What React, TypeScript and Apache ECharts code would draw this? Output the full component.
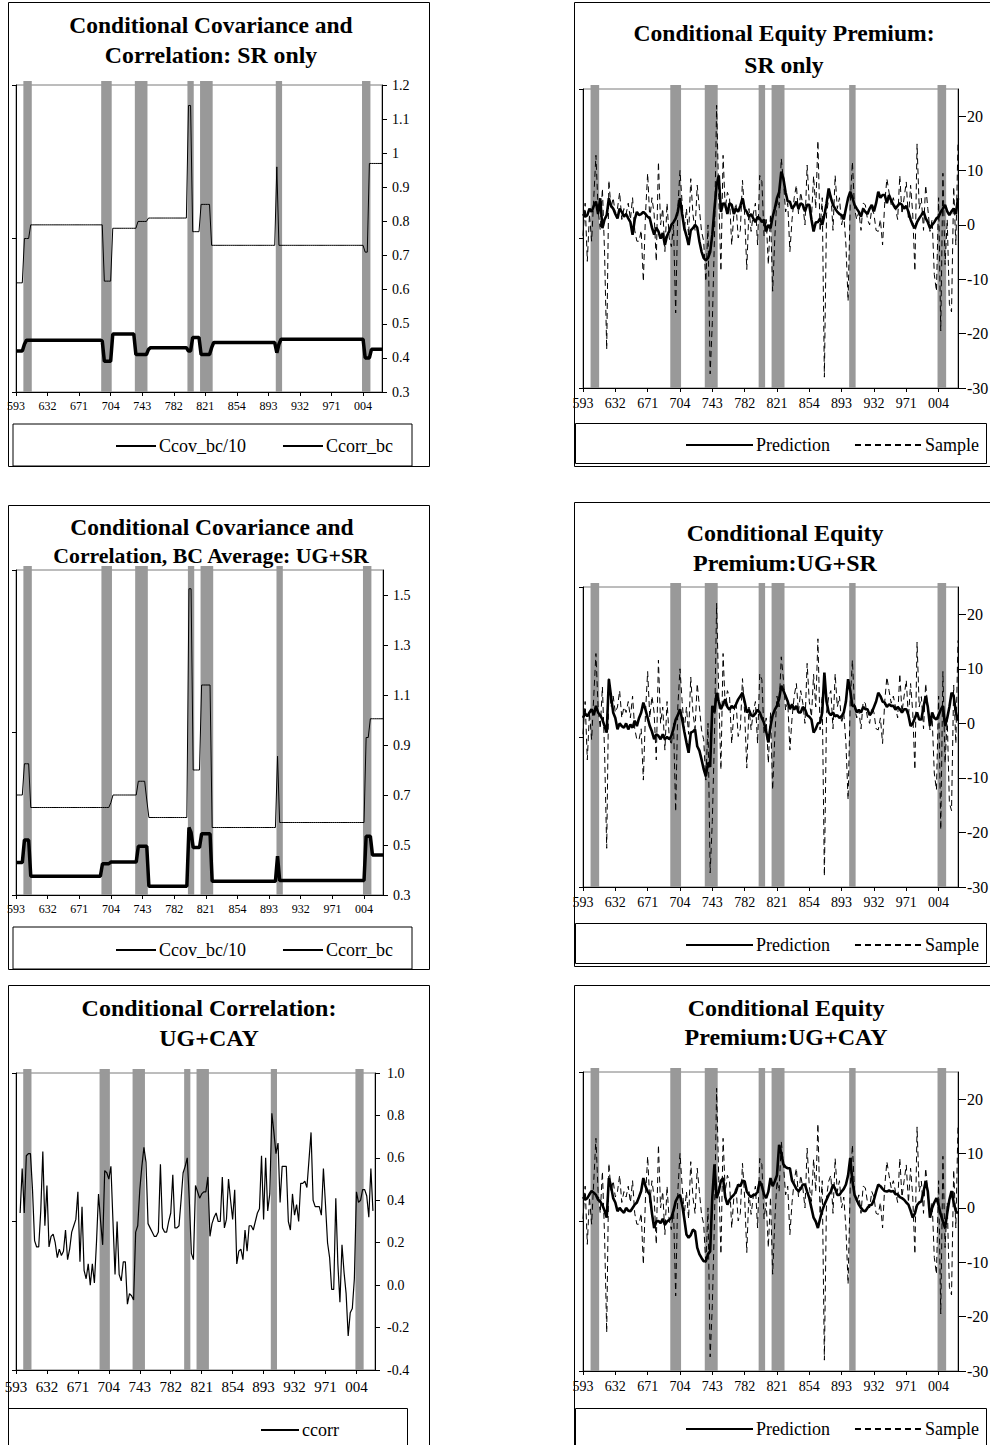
import React, { useEffect, useRef } from "react";
import * as echarts from "echarts";

const FONT = "'Liberation Serif', 'Times New Roman', serif";

// Quarterly axis 1959:3 .. 2003:1 (label = two-digit year + quarter)
const N_QUARTERS = 175;
const quarters: string[] = [];
for (let i = 0; i < N_QUARTERS; i++) {
  const k = 2 + i;
  const y = 1959 + Math.floor(k / 4);
  quarters.push(String(y % 100).padStart(2, "0") + String((k % 4) + 1));
}

// Shaded recession quarters [first index, last index]
const recessionQuarters = [
  [4, 7], [41, 45], [57, 62], [82, 84], [88, 93], [124, 126], [165, 168],
];

// Step series given as runs: [value, number of quarters]
const ccovSrRuns = [
  [0.62, 4], [0.75, 3], [0.79, 35], [0.625, 4], [0.78, 12], [0.8, 5], [0.81, 19],
  [1.14, 2], [0.77, 4], [0.85, 5], [0.73, 31], [0.96, 1], [0.73, 41], [0.71, 2], [0.97, 7],
];
const ccorrSrRuns = [
  [0.42, 4], [0.44, 1], [0.452, 36], [0.45, 1], [0.39, 4], [0.47, 11], [0.41, 6], [0.425, 1],
  [0.43, 18], [0.42, 2], [0.46, 4], [0.41, 5], [0.43, 1], [0.445, 30], [0.415, 1], [0.44, 1],
  [0.455, 40], [0.4, 3], [0.425, 6],
];
const ccovUgSrRuns = [
  [0.7, 4], [0.825, 3], [0.65, 38], [0.67, 1], [0.7, 12], [0.755, 4], [0.68, 1], [0.61, 19],
  [1.525, 2], [0.8, 4], [1.14, 5], [0.57, 31], [0.855, 1], [0.59, 41], [0.93, 2], [1.005, 7],
];
const ccorrUgSrRuns = [
  [0.43, 4], [0.52, 3], [0.375, 34], [0.425, 4], [0.432, 13], [0.495, 5], [0.335, 19],
  [0.57, 1], [0.55, 1], [0.49, 4], [0.545, 5], [0.355, 31], [0.455, 1], [0.358, 41],
  [0.535, 3], [0.46, 6],
];

const ccorrUgCay = [
  null, null, 0.34, 0.55, 0.34, 0.61, 0.62, 0.62, 0.45, 0.21,
  0.18, 0.18, 0.35, 0.63, 0.28, 0.47, 0.18, 0.23, 0.24, 0.2,
  0.13, 0.17, 0.14, 0.16, 0.26, 0.12, 0.17, 0.25, 0.28, 0.31,
  0.44, 0.11, 0.37, 0.07, 0.03, 0.1, 0.0, 0.1, 0.01, 0.2,
  0.43, 0.3, 0.19, 0.54, 0.53, 0.5, 0.56, 0.3, 0.05, 0.3,
  0.05, 0.02, 0.11, 0.11, -0.09, -0.04, -0.05, -0.07, 0.25, 0.28,
  0.45, 0.56, 0.65, 0.58, 0.29, 0.27, 0.25, 0.23, 0.23, 0.25,
  0.57, 0.27, 0.25, 0.25, 0.3, 0.34, 0.52, 0.27, 0.27, 0.28,
  0.4, 0.53, 0.56, 0.6, 0.4, 0.15, 0.12, 0.47, 0.44, 0.41,
  0.43, 0.44, 0.44, 0.51, 0.23, 0.29, 0.32, 0.34, 0.3, 0.3,
  0.51, 0.27, 0.31, 0.5, 0.4, 0.31, 0.45, 0.1, 0.16, 0.17,
  0.12, 0.26, 0.16, 0.28, 0.28, 0.26, 0.3, 0.34, 0.36, 0.61,
  0.31, 0.6, 0.35, 0.43, 0.81, 0.72, 0.62, 0.67, 0.39, 0.56,
  0.56, 0.56, 0.3, 0.26, 0.43, 0.33, 0.38, 0.3, 0.48, 0.48,
  0.49, 0.46, 0.59, 0.72, 0.4, 0.37, 0.37, 0.37, 0.33, 0.55,
  0.38, 0.2, 0.13, -0.02, -0.02, 0.41, 0.1, -0.08, 0.19, 0.06,
  -0.04, -0.24, -0.13, -0.11, 0.03, 0.44, 0.39, 0.4, 0.45, 0.45,
  0.42, 0.32, 0.55, 0.35, null,
];

const sample = [
  -2, 4, -6.7, 2, -3, 5, 12.8, 3, -1, 6.7,
  -5, -22.9, 8.2, 3, 5, 2, 3, 6, 1, 3,
  2, 4, 1, 5, -1, -3, -3, -1, -10.4, 2,
  9.5, 1, 5, 2, -6.7, 11.6, 0, 3, -4.9, 4,
  -2.4, -4, 0, -16.2, 3, 10, 4, -1.2, 3, -2,
  8.5, 2, -1, 7.3, 3, -1.2, -3, -10.4, 0, -27.4,
  -18, -2.4, 22, 5, -8.5, 12.8, 3, 6, 4.9, -3.7,
  2, 4, -2.4, -1, 8.2, 2, -8.2, 3, -1.2, 2,
  4, -3.7, 9.1, 8, -2, 1, -7.3, 2, -12.2, -2.4,
  5, 3, 12.2, 8, 2.4, 4, -4.9, 1, 5, 7.3,
  2, 6, 3.7, 0, 11, 4, 1.2, 9, 3, 15.5,
  -1.2, 5, -28, 2, 4.9, 6, -1, 9.1, 3, 5,
  0, 2, -3.7, -14, 4, 11.6, 3, 1, 2.4, -1,
  4, 3.7, 1, 0, 3, 2, -1, -1.2, 1, -3.7,
  4, 8.5, 6, 3.7, 5, 3, 1, 9.1, 2, 5,
  7.9, 1, 7.3, 2, -8.5, 14.9, 3, 4.9, -1, 7.3,
  3, -1.2, 1, -9.1, -12.2, 5, -19.5, 9.5, -7.3, 1,
  -14.6, -16, 7, -3.7, 15.2,
];

const predSr = [
  2, 1.5, 1.8, 3, 2.4, 3.5, 4.3, 2, 4.9, -0.6,
  1, 1.8, 4.9, 3.5, 3, 2, 1.2, 3, 2.4, 1.5,
  2, 1.2, 0.5, -1.8, 1, 2.4, 1.8, 2, 2.4, 2,
  1.5, 1.2, -0.5, -1.8, -0.5, -1.2, -2.5, -1.5, -3.7, -2,
  -1.2, 0, 0.5, 1.2, 2.5, 4.9, 2, -0.6, -2, -3.7,
  -1, -0.6, 0, -0.5, -3, -4.9, -6.1, -6.5, -6.1, -5,
  -1.8, 3, 7.3, 9.1, 2.4, 4, 3.7, 2, 4, 3.7,
  2, 3, 2.4, 3.5, 4.9, 3, 2.4, 1.5, 2, 1.2,
  0.5, 1.5, 1.2, 0.5, 1, -1.2, 0, -0.6, 1.5, 3,
  4.9, 6, 9.8, 8.5, 6, 4.3, 4.3, 3, 3.5, 4.3,
  3, 4, 3.7, 2.5, 3.7, 3.7, 1, -1.2, 0.5, 0.5,
  1.2, 0, 1.8, 4, 6.7, 5, 3.7, 3, 2.4, 2,
  1.8, 1, 3, 4.9, 6.1, 5, 3.7, 3, 2.4, 1.5,
  3, 2.4, 2, 3, 3.7, 2.5, 4, 6.1, 5, 5.5,
  5.5, 4, 5.5, 4.5, 3.7, 3, 3.5, 4, 3.7, 3,
  3.5, 2.4, 1, 0, -0.6, 0.5, 1.2, 1.8, 2.5, 1.2,
  0.5, -0.6, 0, 0.5, 1.2, 1.5, 2.4, 3, 3.7, 2.5,
  1.8, 2.5, 3, 2, 4.9,
];

const predUgSr = [
  1, 1.8, 1.3, 2, 2.6, 1.5, 3.2, 2, 1.5, 0.7,
  -0.5, -1.7, 8.1, 5, 2, 1, -1.1, 0, -0.5, -0.8,
  0, -1.1, -0.2, -0.8, 0.5, -0.5, 1, 2, 3.8, 2.5,
  1, -0.5, -1.5, -2.9, -2, -2.3, -2.9, -2, -2.9, -2.5,
  -2.9, -2.3, -1, 0.7, 1.5, 2.6, 0.7, -1.5, -3.5, -5.4,
  -1.7, -1.5, -1.1, -4.2, -5, -6.6, -8.4, -9.7, -7.2, -8,
  3.2, 2, 5.6, 4, 2.6, 3.5, 4.4, 3, 2.5, 3.2,
  2.8, 3.5, 4.4, 5, 5.6, 4, 2, 2.5, 1.5, 1.3,
  1.8, 2.5, 2, 1, 0.1, -1.5, -3.5, -0.5, 1.5, 2.5,
  3.2, 4.5, 6.9, 6, 5, 4, 2.6, 3.5, 2.5, 3.2,
  2, 2, 3, 2.6, 1.5, 1.2, 0.7, -1.7, -1, 0,
  0.1, 2, 9.3, 4, 2, 1.5, 2, 1.3, 1.5, 1,
  1.3, 2, 4, 8.1, 6, 3.2, 3.2, 2, 2.5, 2,
  3, 2.6, 2.6, 1.5, 2, 3, 4, 5.6, 5, 4,
  3.8, 3, 3.5, 3.2, 3.2, 2.5, 3, 2.6, 2, 2.6,
  2.6, 1.5, -0.5, 0, 1, 2, 0.7, 0.7, 3, 5,
  3, -0.5, 2, 1, 0.7, 1.5, 2.5, 3.2, -0.5, 1,
  3, 5.6, 5, 2, 0.5,
];

const predUgCay = [
  2, 1.5, 1.8, 2.5, 3.1, 2.8, 2.4, 1.5, 1.2, 0.5,
  -0.5, -1.8, 5.5, 4, 1.8, 1, -0.6, 0, -0.5, -0.9,
  0, -0.5, -0.6, 0, 0.6, 1, 2, 3.1, 5.5, 4,
  3, 2.4, -1, -3.7, -2.5, -2.4, -2.8, -2, -3.1, -2.5,
  -2.2, -1.8, -0.5, 1.2, 2, 2.4, 0.6, -2, -4.9, -5.5,
  -5, -4, -4.3, -7.3, -8.5, -9.2, -9.8, -9.8, -8.5, -8,
  2, 8, 1.8, 3, 5, 5.5, 2, 0.6, 1.5, 2,
  2.4, 3, 4.3, 4, 5, 4.9, 3, 2.4, 2, 2.4,
  2.4, 3, 4.9, 4, 2.5, 1.8, 3, 5.5, 4, 4.9,
  6, 11.6, 10, 8, 7.5, 7.3, 7.3, 5, 4.3, 3.5,
  3.1, 3.5, 4.3, 4.3, 3, 1.8, 0, -1.8, -2.5, -3.7,
  -2, -0.5, 0.6, 1.5, 2.4, 3, 4.3, 3.5, 2.4, 2.4,
  3, 3.5, 4.3, 6, 9.2, 5, 2.4, 1.5, 0.6, 0,
  -0.5, -0.6, 0, 0.5, 0.6, 1.5, 3, 4.3, 4, 3.5,
  3.1, 3, 3.2, 3, 3.1, 2.5, 2.5, 2, 1.8, 1.5,
  1, 0.6, -0.5, -1.8, -1, 0.5, 1, 1.2, 3, 4.9,
  3, -1.8, 0, 1, 1.8, 0.5, -1.2, -2.5, -3.7, -1,
  1.5, 3.1, 1, -0.6, -1,
];

// Axis tick values
const ticksSr = [0.3, 0.4, 0.5, 0.6, 0.7, 0.8, 0.9, 1, 1.1, 1.2];
const ticksUgSr = [0.3, 0.5, 0.7, 0.9, 1.1, 1.3, 1.5];
const ticksCay = [-0.4, -0.2, 0, 0.2, 0.4, 0.6, 0.8, 1.0];
const ticksPremium = [-30, -20, -10, 0, 10, 20];

const expandRuns = (runs: number[][]) => runs.flatMap(([v, n]) => Array(n).fill(v));

type SeriesDef = { name: string; data: (number | null)[]; width: number; dashed?: boolean };
type PanelDef = {
  grid: { left: number; top: number; width: number; height: number };
  yMin: number; yMax: number; yTicks: number[]; yFmt?: (v: number) => string;
  xFont: number; yFont: number; xMargin: number; yMargin: number; yTick: number;
  series: SeriesDef[];
  legend: { left: number; top: number; itemWidth: number; itemGap: number };
  titles: { x: number; y: number; text: string; size: number }[];
  box: { x: number; y: number; w: number; h: number };
  legendBox: { x: number; y: number; w: number; h: number };
};

const panels: PanelDef[] = [
  {
    grid: { left: 16, top: 85, width: 366, height: 307 },
    yMin: 0.3, yMax: 1.2, yTicks: ticksSr,
    xFont: 12, yFont: 14, xMargin: 8, yMargin: 10, yTick: 5,
    series: [
      { name: "Ccov_bc/10", data: expandRuns(ccovSrRuns), width: 1 },
      { name: "Ccorr_bc", data: expandRuns(ccorrSrRuns), width: 3.5 },
    ],
    legend: { left: 115, top: 437, itemWidth: 40, itemGap: 36 },
    titles: [
      { x: 211, y: 25, text: "Conditional Covariance and", size: 23.5 },
      { x: 211, y: 55, text: "Correlation: SR only", size: 23.8 },
    ],
    box: { x: 8.5, y: 2.5, w: 421, h: 464 },
    legendBox: { x: 13, y: 424, w: 399, h: 42 },
  },
  {
    grid: { left: 16, top: 570, width: 367, height: 325 },
    yMin: 0.3, yMax: 1.6, yTicks: ticksUgSr,
    xFont: 12, yFont: 14, xMargin: 8, yMargin: 10, yTick: 5,
    series: [
      { name: "Ccov_bc/10", data: expandRuns(ccovUgSrRuns), width: 1 },
      { name: "Ccorr_bc", data: expandRuns(ccorrUgSrRuns), width: 3.5 },
    ],
    legend: { left: 115, top: 941, itemWidth: 40, itemGap: 36 },
    titles: [
      { x: 212, y: 527, text: "Conditional Covariance and", size: 23.5 },
      { x: 211, y: 556, text: "Correlation, BC Average: UG+SR", size: 21.8 },
    ],
    box: { x: 8.5, y: 505.5, w: 421, h: 464 },
    legendBox: { x: 13, y: 927, w: 399, h: 42 },
  },
  {
    grid: { left: 16, top: 1073, width: 359, height: 297 },
    yMin: -0.4, yMax: 1.0, yTicks: ticksCay, yFmt: (v: number) => v.toFixed(1),
    xFont: 15, yFont: 14, xMargin: 9, yMargin: 12, yTick: 5,
    series: [{ name: "ccorr", data: ccorrUgCay, width: 1.2 }],
    legend: { left: 260, top: 1421, itemWidth: 38, itemGap: 20 },
    titles: [
      { x: 209, y: 1008, text: "Conditional Correlation:", size: 24 },
      { x: 209, y: 1038, text: "UG+CAY", size: 24 },
    ],
    box: { x: 8.5, y: 985.5, w: 421, h: 500 },
    legendBox: { x: 8.5, y: 1408.5, w: 399, h: 100 },
  },
  {
    grid: { left: 583, top: 89, width: 375, height: 299 },
    yMin: -30, yMax: 25, yTicks: ticksPremium,
    xFont: 14, yFont: 16, xMargin: 8, yMargin: 9, yTick: 8,
    series: [
      { name: "Prediction", data: predSr, width: 2.6 },
      { name: "Sample", data: sample, width: 1, dashed: true },
    ],
    legend: { left: 685, top: 436, itemWidth: 67, itemGap: 24 },
    titles: [
      { x: 784, y: 33, text: "Conditional Equity Premium:", size: 23.6 },
      { x: 784, y: 65, text: "SR only", size: 23.6 },
    ],
    box: { x: 574.5, y: 2.5, w: 430, h: 464 },
    legendBox: { x: 575.5, y: 423.5, w: 411, h: 40 },
  },
  {
    grid: { left: 583, top: 587, width: 375, height: 300 },
    yMin: -30, yMax: 25, yTicks: ticksPremium,
    xFont: 14, yFont: 16, xMargin: 8, yMargin: 9, yTick: 8,
    series: [
      { name: "Prediction", data: predUgSr, width: 2.6 },
      { name: "Sample", data: sample, width: 1, dashed: true },
    ],
    legend: { left: 685, top: 936, itemWidth: 67, itemGap: 24 },
    titles: [
      { x: 785, y: 533, text: "Conditional Equity", size: 24 },
      { x: 785, y: 563, text: "Premium:UG+SR", size: 24 },
    ],
    box: { x: 574.5, y: 502.5, w: 430, h: 464 },
    legendBox: { x: 575.5, y: 923.5, w: 411, h: 40 },
  },
  {
    grid: { left: 583, top: 1072, width: 375, height: 299 },
    yMin: -30, yMax: 25, yTicks: ticksPremium,
    xFont: 14, yFont: 16, xMargin: 8, yMargin: 9, yTick: 8,
    series: [
      { name: "Prediction", data: predUgCay, width: 2.6 },
      { name: "Sample", data: sample, width: 1, dashed: true },
    ],
    legend: { left: 685, top: 1420, itemWidth: 67, itemGap: 24 },
    titles: [
      { x: 786, y: 1008, text: "Conditional Equity", size: 24 },
      { x: 786, y: 1037, text: "Premium:UG+CAY", size: 24 },
    ],
    box: { x: 574.5, y: 985.5, w: 430, h: 500 },
    legendBox: { x: 575.5, y: 1408.5, w: 411, h: 100 },
  },
];

function buildOption() {
  const grid: any[] = [];
  const xAxis: any[] = [];
  const yAxis: any[] = [];
  const series: any[] = [];
  const legend: any[] = [];
  const graphic: any[] = [];

  panels.forEach((p, i) => {
    grid.push({
      ...p.grid,
      show: true,
      borderColor: "#7a7a7a",
      borderWidth: 1,
      backgroundColor: "transparent",
      containLabel: false,
      outerBoundsMode: "none",
    });
    xAxis.push({
      type: "category",
      gridIndex: i,
      data: quarters,
      boundaryGap: false,
      position: "bottom",
      z: 5,
      axisLine: { show: true, onZero: false, lineStyle: { color: "#000", width: 1 } },
      axisTick: { show: true, interval: 14, length: 4, lineStyle: { color: "#000" } },
      axisLabel: {
        interval: 14,
        fontFamily: FONT,
        fontSize: p.xFont,
        color: "#000",
        margin: p.xMargin,
      },
      splitLine: { show: false },
    });
    yAxis.push({
      type: "value",
      gridIndex: i,
      position: "right",
      min: p.yMin,
      max: p.yMax,
      z: 5,
      axisLine: { show: true, onZero: false, lineStyle: { color: "#000", width: 1 } },
      axisTick: {
        show: true,
        length: p.yTick,
        customValues: p.yTicks,
        lineStyle: { color: "#000" },
      },
      axisLabel: {
        customValues: p.yTicks,
        formatter: p.yFmt ? (v: number) => p.yFmt!(v) : undefined,
        fontFamily: FONT,
        fontSize: p.yFont,
        color: "#000",
        margin: p.yMargin,
      },
      splitLine: { show: false },
    });
    yAxis.push({
      type: "value",
      gridIndex: i,
      position: "left",
      min: 0,
      max: 2,
      interval: 1,
      z: 5,
      axisLine: { show: true, onZero: false, lineStyle: { color: "#000", width: 1 } },
      axisTick: { show: true, length: 4, lineStyle: { color: "#000" } },
      axisLabel: { show: false },
      splitLine: { show: false },
    });

    series.push({
      type: "custom",
      name: "recession" + i,
      xAxisIndex: i,
      yAxisIndex: 2 * i,
      data: recessionQuarters,
      silent: true,
      z: 1,
      renderItem: (params: any, api: any) => {
        const s = api.value(0);
        const e = api.value(1);
        const p0 = api.coord([s, p.yMin]);
        const p1 = api.coord([e, p.yMin]);
        const step = (p1[0] - p0[0]) / (e - s);
        const cs = params.coordSys;
        return {
          type: "rect",
          shape: {
            x: p0[0] - step / 2,
            y: cs.y - 4,
            width: p1[0] - p0[0] + step,
            height: cs.height + 4,
          },
          style: { fill: "#999999" },
        };
      },
    });

    p.series.forEach((s) => {
      series.push({
        type: "line",
        name: s.name,
        xAxisIndex: i,
        yAxisIndex: 2 * i,
        data: s.data,
        symbol: "none",
        showSymbol: false,
        connectNulls: false,
        z: 3,
        color: "#000",
        itemStyle: { color: "#000" },
        lineStyle: { color: "#000", width: s.width, type: s.dashed ? [6, 4] : "solid" },
      });
    });

    legend.push({
      show: true,
      left: p.legend.left,
      top: p.legend.top,
      orient: "horizontal",
      padding: 0,
      itemWidth: p.legend.itemWidth,
      itemHeight: 14,
      itemGap: p.legend.itemGap,
      selectedMode: false,
      data: p.series.map((s) => s.name),
      itemStyle: { opacity: 0, borderWidth: 0 },
      textStyle: { fontFamily: FONT, fontSize: 18, color: "#000", padding: [0, 0, 0, -2] },
    });

    graphic.push({
      type: "rect",
      shape: { x: p.box.x, y: p.box.y, width: p.box.w, height: p.box.h },
      style: { fill: "none", stroke: "#000", lineWidth: 1 },
      silent: true,
    });
    graphic.push({
      type: "rect",
      shape: { x: p.legendBox.x, y: p.legendBox.y, width: p.legendBox.w, height: p.legendBox.h },
      style: { fill: "none", stroke: "#000", lineWidth: 1 },
      silent: true,
    });
    p.titles.forEach((t) => {
      graphic.push({
        type: "text",
        x: t.x,
        y: t.y,
        silent: true,
        style: {
          text: t.text,
          fill: "#000",
          fontFamily: FONT,
          fontSize: t.size,
          fontWeight: "bold",
          align: "center",
          verticalAlign: "middle",
        },
      });
    });
  });

  return {
    animation: false,
    backgroundColor: "#fff",
    grid,
    xAxis,
    yAxis,
    series,
    legend,
    graphic,
  };
}

export default function App() {
  const ref = useRef<HTMLDivElement>(null);
  useEffect(() => {
    if (!ref.current) return;
    const chart = echarts.init(ref.current, undefined, { renderer: "svg" });
    chart.setOption(buildOption() as any);
    return () => chart.dispose();
  }, []);
  return (
    <div
      ref={ref}
      style={{ position: "absolute", left: 0, top: 0, width: 990, height: 1445, background: "#fff" }}
    />
  );
}
